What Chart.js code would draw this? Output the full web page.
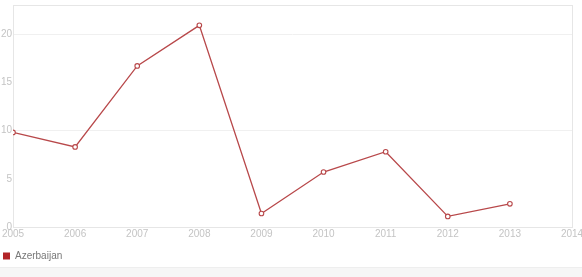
<!DOCTYPE html>
<html>
<head>
<meta charset="utf-8">
<script src="https://cdn.jsdelivr.net/npm/chart.js@4.4.1/dist/chart.umd.min.js"></script>
<style>
  html, body { margin: 0; padding: 0; background: #fff; }
  #wrap { position: relative; width: 582px; height: 277px; background: #fff; }
  #foot { position: absolute; left: 0; top: 267px; width: 582px; height: 10px; background: #f6f6f6; border-top: 1px solid #eeeeee; }
  #c { position: absolute; left: 0; top: 0; }
</style>
</head>
<body>
<div id="wrap"><div id="foot"></div><canvas id="c" width="582" height="271"></canvas></div>
<script>
const seriesName = "Azerbaijan";
const years = [2005, 2006, 2007, 2008, 2009, 2010, 2011, 2012, 2013];
const values = [9.8, 8.3, 16.7, 20.9, 1.4, 5.7, 7.8, 1.1, 2.4];
const yTicks = [0, 5, 10, 15, 20];
const xMin = 2005, xMax = 2014, yMax = 23;

const borderPlugin = {
  id: 'areaBorder',
  beforeDatasetsDraw(chart) {
    const a = chart.chartArea, ctx = chart.ctx;
    ctx.save();
    ctx.strokeStyle = '#e6e6e6';
    ctx.lineWidth = 1;
    ctx.strokeRect(Math.round(a.left) + 0.5, Math.round(a.top) + 0.5,
                   Math.round(a.right - a.left), Math.round(a.bottom - a.top));
    ctx.restore();
  }
};

new Chart(document.getElementById('c'), {
  type: 'line',
  data: {
    datasets: [{
      label: seriesName,
      data: years.map((y, i) => ({ x: y, y: values[i] })),
      borderColor: '#b8484a',
      backgroundColor: '#b22428',
      borderWidth: 1.3,
      pointRadius: 2.3,
      pointBorderWidth: 1.1,
      pointBackgroundColor: '#ffffff',
      pointBorderColor: '#b8484a',
      tension: 0
    }]
  },
  options: {
    responsive: false,
    animation: false,
    layout: { padding: { left: 0, right: 0, top: 0, bottom: 0 } },
    plugins: {
      tooltip: { enabled: false },
      legend: {
        position: 'bottom',
        align: 'start',
        labels: {
          boxWidth: 7, boxHeight: 7, padding: 3,
          color: '#777777',
          font: { family: 'Arial, "Liberation Sans", sans-serif', size: 10 },
          generateLabels(chart) {
            return [{ text: seriesName, fillStyle: '#b22428', strokeStyle: '#b22428', fontColor: '#777777', lineWidth: 0, datasetIndex: 0 }];
          }
        }
      }
    },
    scales: {
      x: {
        type: 'linear', min: xMin, max: xMax,
        afterFit(scale) { scale.height = 21; scale.paddingRight = 10; },
        ticks: {
          stepSize: 1, color: '#c4c4c4', padding: 1, maxRotation: 0,
          font: { family: 'Arial, "Liberation Sans", sans-serif', size: 10 },
          callback: v => String(v)
        },
        grid: { display: false, drawTicks: false },
        border: { display: false }
      },
      y: {
        min: 0, max: yMax,
        afterBuildTicks(scale) { scale.ticks = yTicks.map(v => ({ value: v })); },
        afterFit(scale) { scale.width = 13; scale.paddingTop = 0; },
        ticks: {
          color: '#c4c4c4', padding: 1,
          font: { family: 'Arial, "Liberation Sans", sans-serif', size: 10 }
        },
        grid: {
          drawTicks: false,
          color: ctx => (ctx.tick && (ctx.tick.value === 10 || ctx.tick.value === 20)) ? '#f0f0f0' : 'rgba(0,0,0,0)'
        },
        border: { display: false }
      }
    }
  },
  plugins: [borderPlugin]
});
</script>
</body>
</html>
